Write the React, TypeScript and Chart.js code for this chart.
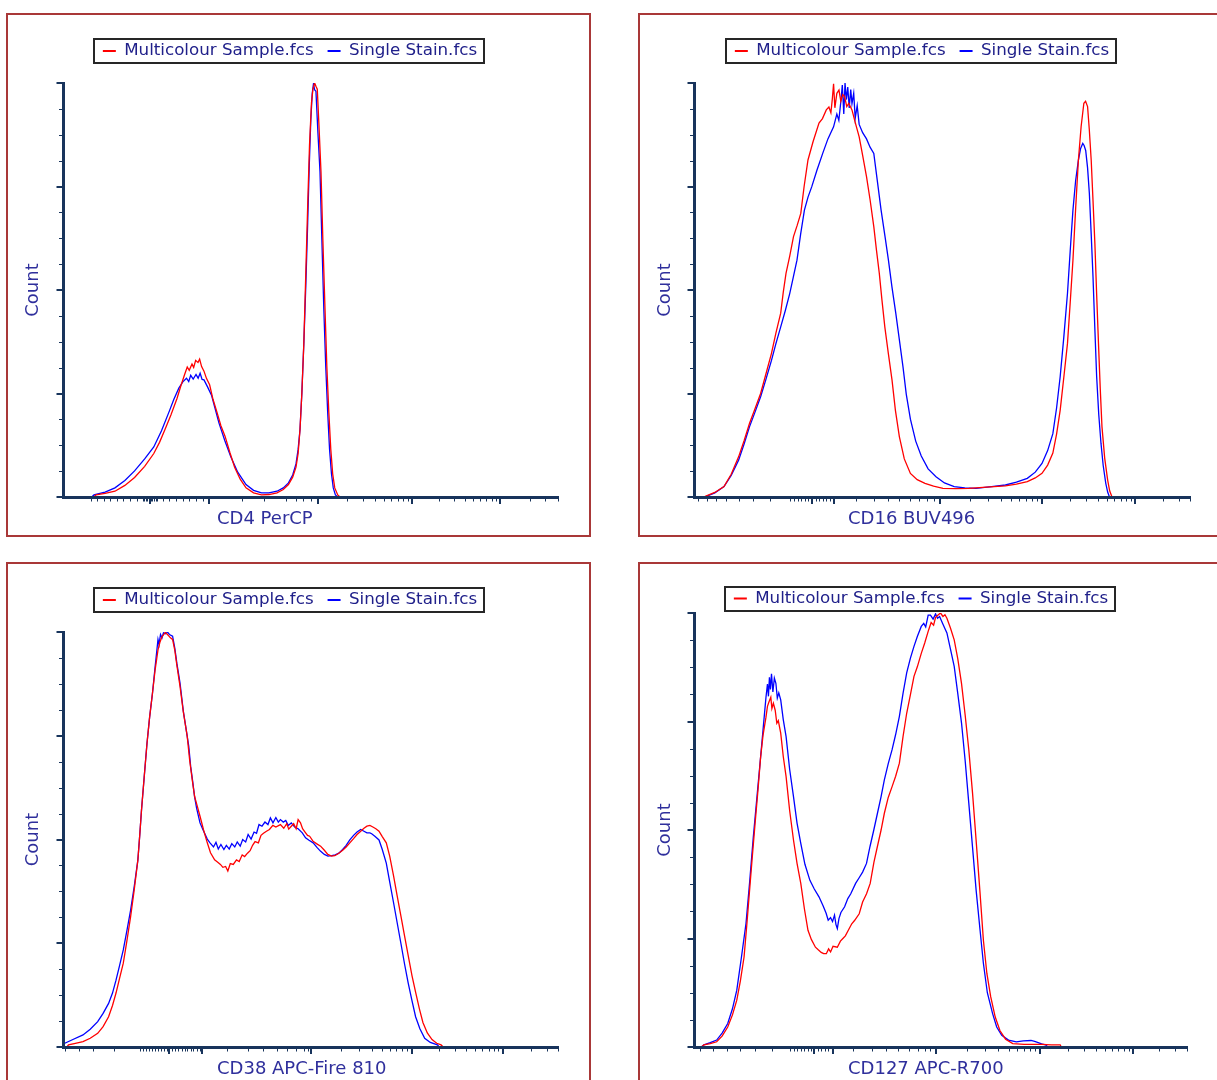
import React, { useEffect, useRef } from 'react';
import { Chart, registerables } from 'chart.js';

Chart.register(...registerables);

const FONT = '"DejaVu Sans", Verdana, sans-serif';
const AXIS_COLOR = '#18345c';
const LEGEND_TEXT = '#20208a';
const TITLE_TEXT = '#2f2f9c';
const FRAME_COLOR = '#a93838';

const seriesLabels = ['Multicolour Sample.fcs', 'Single Stain.fcs'];
const seriesColors = ['#ff0000', '#0000ff'];
const yAxisTitle = 'Count';
const xAxisTitles = ['CD4 PerCP', 'CD16 BUV496', 'CD38 APC-Fire 810', 'CD127 APC-R700'];

// y axis: percent of modal count
const yMajorTicks = [0, 25, 50, 75, 100];
const yMinorTicks = [6.25, 12.5, 18.75, 31.25, 37.5, 43.75, 56.25, 62.5, 68.75, 81.25, 87.5, 93.75];

// x axis: display channel 0..1000 (logicle-like tick layout)
const cd4MajorTicks = [175.8, 294, 516, 705, 882.8];
const cd4MinorTicks = [56.6, 68.7, 82.8, 95, 109, 121, 135, 149.5, 161.6, 164.6, 167.7, 170.7, 173.7, 177.8, 180.8, 183.8, 186.9, 190, 202, 214, 228, 242, 254.5, 268.7, 282.8, 361.6, 406, 450.5, 470.7, 484.8, 501, 573, 606, 630, 648.5, 663, 675.8, 687, 696, 758.6, 790, 812, 829, 843, 855, 865.7, 874.7, 943, 974, 1000];

const cd16MajorTicks = [238.9, 281.4, 495, 701.6, 889];
const cd16MinorTicks = [9, 26, 44.4, 64.3, 90, 119.5, 152.6, 194.5, 201.6, 208.7, 215.7, 222.8, 229.8, 246, 253, 260, 267, 274, 325.8, 362.5, 392, 414, 436, 454.6, 469.4, 484, 557.2, 593.6, 619.4, 639.4, 655.8, 669.6, 681.6, 692.1, 758, 791, 814.4, 832.6, 847.4, 860, 870.8, 880.4, 944.6, 977.6, 1000];

const cd38MajorTicks = [215, 280.8, 501, 705, 888];
const cd38MinorTicks = [5, 32.3, 61, 103, 155.6, 161.6, 167.7, 173.7, 179.8, 185.9, 191.9, 198, 204, 209.7, 221, 227, 233, 239.4, 245.5, 251.5, 257.6, 263.6, 269.7, 275.8, 332, 374.7, 405, 432, 453.5, 471.7, 485.9, 494, 562, 598, 624, 643.6, 659.7, 673.4, 685, 695.3, 760, 792.3, 815, 832.8, 847.4, 859.7, 870.3, 879.6, 945, 977.8, 1000];

const cd127MajorTicks = [244.2, 282, 490, 702, 890];
const cd127MinorTicks = [13, 37.7, 67, 93.3, 123.7, 157.4, 195.7, 202.8, 209.9, 217, 224, 231.2, 237.3, 251.5, 258.6, 265.7, 272.8, 322, 361, 388.7, 413, 436, 454, 468.6, 479, 553.8, 591.2, 617.6, 638.2, 655, 669.2, 681.5, 692.3, 758.6, 791.7, 815.2, 833.4, 848.3, 860.9, 871.8, 881.4, 943.6, 976, 1000];

// histogram series: [channel, % of max]
const cd4Multicolour = [[62, 0], [66.7, 0.5], [85, 0.9], [105, 1.4], [125, 2.8], [144.6, 4.7], [165, 7.4], [183.4, 10.5], [195, 13.2], [206, 16.3], [218, 19.8], [230.3, 23.8], [238, 26.8], [245.7, 29.6], [251, 31.4], [255, 30.6], [260.6, 32.1], [264, 31.3], [268, 33.0], [272.7, 32.5], [276, 33.3], [280, 31.5], [284.8, 30.4], [290, 28.6], [296.2, 27.1], [303, 23.6], [311, 20.5], [319, 17.2], [327.3, 14.7], [337, 10.8], [346.7, 7.2], [358, 4.3], [369.7, 2.2], [385, 1.0], [401, 0.5], [416, 0.6], [432.3, 1.0], [445, 1.8], [455.5, 3.0], [464, 4.8], [470.7, 7.2], [475, 10.5], [478.8, 16.3], [482.5, 25], [486.5, 37], [490.5, 54], [494.3, 70.3], [498, 85], [502, 95.2], [505, 98.6], [508.3, 100], [511, 99.2], [513.7, 98.5], [517, 90], [521.2, 78.5], [525, 62], [529.3, 45.4], [533, 31.5], [537, 20.5], [541, 11.5], [544.8, 5.6], [549, 2.2], [555, 0.5], [559.6, 0]];
const cd4SingleStain = [[58, 0], [62.6, 0.5], [85, 1.2], [105, 2.2], [125, 4.0], [144.6, 6.3], [165, 9.2], [183.4, 12.1], [199, 16.0], [214, 20.5], [224, 23.6], [234, 26.3], [242, 27.8], [249.5, 28.7], [254, 27.9], [258, 29.4], [263, 28.5], [268.7, 29.6], [273, 28.7], [277, 29.9], [281, 28.4], [284.8, 28.3], [292, 26.6], [300, 24.6], [307, 21.5], [315, 17.9], [327, 13.6], [339, 9.7], [353, 6.0], [369.7, 3.0], [385, 1.6], [401, 1.0], [416, 1.0], [432.3, 1.4], [445, 2.2], [455.5, 3.4], [464, 5.3], [470.7, 8.0], [475, 11.5], [478.8, 16.3], [482.5, 25], [486.5, 37], [490.5, 51], [494.3, 66.2], [497.5, 80], [500.6, 91], [503.5, 97.5], [506, 99.8], [508.5, 98.3], [511, 98], [515, 88], [519.2, 78.5], [523, 62], [526.9, 45.4], [530.8, 31.5], [534.7, 20.5], [538.5, 11.5], [542.4, 5.6], [546, 2.2], [550.3, 0.5], [555.5, 0]];

const cd16Multicolour = [[20, 0], [23.8, 0.2], [42, 1.1], [60.5, 2.5], [75, 5.5], [89.9, 9.7], [101, 13.6], [112, 17.8], [123, 21.3], [134.3, 25], [145, 29.7], [156.2, 34.7], [165, 39.5], [174.8, 44.4], [180, 49.5], [185.5, 54], [193, 58.2], [200.6, 62.9], [208, 65.6], [215.3, 68.5], [222, 75], [229.8, 81.4], [240, 85.8], [252, 90.3], [259, 91.4], [266.7, 93.5], [272, 94.2], [276, 92.8], [279, 96.3], [281.4, 99.8], [284, 94], [288, 97.5], [292.3, 98.3], [296, 95.6], [300, 97.2], [303.6, 96.7], [308, 94.3], [312, 95.1], [318.5, 93.5], [325, 90.5], [333, 87], [340, 82.5], [347.8, 77.4], [355, 71.8], [362.5, 65.3], [368, 59.5], [373.6, 54], [379, 47.5], [384.7, 41.1], [392, 34.5], [399.2, 28.3], [406, 21], [414, 14.6], [424, 9.2], [436.3, 5.7], [450, 4.2], [465.7, 3.3], [483, 2.6], [502, 2.1], [528, 2.0], [554, 2.1], [590, 2.4], [627.8, 2.7], [650, 3.1], [672, 3.7], [688, 4.6], [701.6, 5.7], [713, 7.7], [723.5, 10.6], [731, 15.2], [738.3, 21], [745.5, 28.8], [753, 37.1], [758.5, 47], [764, 57.2], [769.5, 69.8], [775, 81.4], [780.5, 89.5], [786, 95.1], [789.5, 95.6], [793.5, 94.3], [797, 88.7], [800.8, 81.4], [804.5, 71.5], [808.2, 61.3], [811.8, 48.9], [815.5, 37.1], [819, 26.3], [822.5, 17], [828, 9.4], [834, 4.1], [838, 1.5], [842.7, 0]];
const cd16SingleStain = [[20, 0], [23.8, 0.1], [42, 1.0], [60.5, 2.5], [75, 5.2], [89.9, 8.9], [101, 12.8], [112, 17], [123, 20.5], [134.3, 24.2], [145, 28.4], [156.2, 33], [165, 37], [174.8, 41.1], [184, 45], [193.1, 49.2], [200, 53], [207.6, 57.2], [215, 63.5], [222.6, 69.3], [230, 72.5], [237.3, 74.9], [248, 79], [259.5, 83], [270, 86.5], [281.4, 89.4], [288, 92.5], [292, 91], [296.4, 95.9], [299, 99.5], [302, 92.5], [304.5, 100], [307.2, 96], [310, 99], [313, 94], [316, 98.4], [318.5, 95], [322, 97.5], [325, 91.5], [329, 94.5], [333, 90], [340, 88], [347.8, 86.5], [355, 84.5], [362.5, 83], [370, 76], [377.2, 69.3], [385, 63], [392, 57.2], [399, 50.8], [406.8, 44.4], [414, 38], [421.3, 31.5], [428, 24.8], [436.3, 18.8], [447, 13.5], [458.2, 9.9], [472, 6.8], [487.9, 4.9], [505, 3.4], [524.6, 2.5], [546, 2.2], [568.5, 2.1], [600, 2.5], [627.8, 2.9], [650, 3.6], [672, 4.5], [688, 6.0], [701.6, 8.1], [713, 11.2], [723.5, 15.3], [731, 21.5], [738.3, 29.1], [745.5, 38.5], [753, 49.2], [758.5, 59.5], [764, 69.3], [769.5, 76.5], [775, 81.4], [779.5, 84.2], [783.8, 85.4], [786.5, 84.9], [789.7, 83.7], [793.5, 79.5], [797.1, 73.3], [800.8, 63.5], [804.4, 53.3], [808, 41.2], [811.8, 29.1], [816, 20], [820.5, 13], [825, 7.6], [830.2, 3.3], [834, 1.2], [837.6, 0]];

const cd38Multicolour = [[8, 0], [11.1, 0.5], [25, 0.9], [40.4, 1.3], [55, 2.1], [70.1, 3.3], [81, 4.9], [92.1, 7.3], [100, 10.0], [107.1, 13], [114, 16.4], [121.8, 20.2], [129, 25.5], [136.6, 31.4], [144, 38], [151.3, 45.1], [155, 51], [158.6, 57.1], [164, 65], [169.7, 73.2], [175, 79.5], [180.8, 85.3], [186, 90.8], [191.9, 95.7], [196, 97.6], [200, 98.9], [203, 99.3], [206.7, 99.9], [210, 99.5], [214, 99.0], [217, 98.6], [221.4, 98.2], [226, 95.5], [230, 92], [236.4, 86.9], [243, 80.8], [250.9, 74.9], [256, 69], [262, 63.6], [266, 60.3], [270, 58.6], [276.8, 55.6], [284, 52.3], [291.5, 49.2], [298, 46.8], [306.3, 45.1], [312, 44.6], [318, 44.0], [323, 43.3], [328.5, 43.5], [333, 42.4], [338, 44.2], [344, 44.0], [350.5, 45.1], [356, 44.7], [362, 46.3], [367, 45.9], [372.7, 46.7], [378, 47.3], [383, 48.6], [388, 49.5], [394.7, 49.2], [400, 51], [405, 51.5], [411, 52.0], [417, 52.4], [424, 53.4], [430, 53.0], [439.2, 53.6], [446, 52.7], [452, 53.8], [456, 52.5], [461.2, 53.2], [466, 53.8], [471, 52.6], [475, 54.8], [479.8, 54], [484, 52.6], [489, 51.8], [494, 51.0], [498.2, 50.8], [505, 49.6], [512, 49.0], [520.4, 48.4], [528, 47.4], [535, 46.4], [542.4, 46], [549, 46.1], [557.2, 46.7], [565, 47.4], [572, 48.2], [579.4, 49.2], [587, 50.2], [594, 51.2], [601.4, 52], [608, 52.7], [614, 53.2], [620, 53.4], [626, 53.0], [632, 52.6], [638.4, 52], [645, 50.7], [653.1, 49.2], [660, 46], [667.9, 41.2], [675, 36.5], [682.6, 31.6], [690, 26.8], [697.4, 22], [705, 17.2], [712.3, 13.2], [720, 9.2], [727.1, 5.9], [736, 3.4], [745.5, 1.8], [755, 0.9], [763.8, 0.5], [768, 0]];
const cd38SingleStain = [[0, 0.6], [3.6, 0.9], [20, 1.8], [40.4, 2.9], [55, 4.3], [70.1, 6.1], [81, 8.1], [92.1, 10.5], [100, 13.0], [107.1, 16.1], [114, 19.5], [121.8, 23.4], [129, 28], [136.6, 33], [144, 38.8], [151.3, 45.1], [155, 51], [158.6, 57.1], [164, 65], [169.7, 73.2], [175, 79.5], [180.8, 85.3], [186, 91.5], [191.9, 98.2], [194, 97], [197, 99.4], [200, 98.6], [203, 99.8], [207, 99.6], [211, 100], [215, 99.4], [221.4, 99], [226, 96], [230, 92.5], [236.4, 87.7], [243, 81], [250.9, 74.9], [254, 72.5], [258, 67.5], [262, 64], [265.7, 60.4], [270, 57.5], [276.8, 54], [283, 52.3], [291.5, 50.1], [297, 49.2], [304, 48.2], [309, 49.3], [313.7, 47.7], [319, 48.8], [325, 47.6], [330, 48.6], [335.8, 47.7], [341, 49.0], [347, 48.2], [352, 49.4], [358, 48.4], [363, 50.0], [369, 49.4], [374, 51.2], [380, 50.1], [386, 51.8], [391, 51.5], [396, 53.6], [402, 53.2], [408, 54.2], [414, 53.6], [419, 55.2], [424.2, 54], [430, 55.3], [435, 54.2], [439.2, 54.8], [445, 54.2], [450, 54.6], [455, 53.4], [461.2, 54], [468, 53.0], [475, 52.6], [483.4, 51.6], [490, 50.4], [497, 49.8], [505.4, 49.2], [513, 48.1], [520, 47.2], [528, 46.4], [535.2, 46], [543, 46.1], [550, 46.3], [557.2, 46.7], [565, 47.6], [572, 48.6], [579.4, 49.9], [587, 51.0], [594, 51.8], [601.4, 52.4], [608, 52.0], [614, 51.6], [620, 51.6], [623.6, 51.4], [630, 50.8], [638.4, 49.9], [645, 47.6], [653.1, 44.3], [660, 39.8], [667.9, 34.7], [675, 30], [682.6, 25], [690, 20], [697.4, 15.4], [705, 11.2], [712.3, 7.3], [721, 4.4], [730.7, 2.1], [742, 1.1], [756.3, 0.5], [760, 0]];

const cd127Multicolour = [[15, 0], [20.1, 0.5], [33, 0.8], [46, 1.2], [57, 2.5], [68.4, 4.6], [78, 7.4], [86.8, 10.8], [94, 15.2], [101.6, 20.8], [107, 28], [112.8, 36.2], [118, 43.5], [123.9, 51.5], [130, 59.5], [135.1, 66.8], [140, 71.8], [146, 76.0], [149, 78.5], [152, 79.5], [155.8, 80.6], [158, 78], [161, 79.2], [164.7, 77.6], [168, 74.6], [171, 75.2], [175.9, 72.3], [181, 67], [186.8, 62.3], [194, 54.5], [201.8, 47.7], [209, 42.3], [216.6, 37.7], [224, 31.8], [231.2, 26.9], [238, 24.8], [246.3, 23.0], [252, 22.4], [258, 21.8], [263, 21.5], [268.4, 21.5], [273, 22.6], [277, 21.9], [282, 23.2], [290.7, 23.0], [297, 24.4], [302, 25.0], [307, 25.6], [313, 26.9], [320, 28.4], [326, 29.2], [335.1, 30.7], [342, 33.4], [350, 35.3], [357.4, 37.7], [365, 42.6], [372, 46.2], [379.5, 50], [386, 53.8], [394, 57.5], [401.8, 60], [409, 62.4], [416.6, 65.4], [424, 71.5], [431.4, 76.9], [439, 81.2], [446.2, 85.4], [453, 87.6], [461, 90.7], [468, 93.1], [475.9, 96.1], [481, 97.8], [486, 97.2], [490, 99], [494.5, 99.5], [500, 100], [505, 99.2], [509, 99.6], [513, 98.8], [520, 96.6], [527.8, 93.8], [535, 89.5], [542.6, 83.8], [550, 76.5], [557.4, 68.5], [565, 58.5], [572.2, 47.7], [580, 35.8], [587, 24.6], [594, 17], [601.8, 11.6], [611, 6.9], [620.5, 3.8], [632, 1.8], [646.5, 0.8], [670, 0.6], [705.7, 0.6], [725, 0.5], [742.8, 0.5], [745, 0]];
const cd127SingleStain = [[15, 0], [20.1, 0.5], [33, 1.0], [46, 1.6], [57, 3.2], [68.4, 5.4], [78, 8.8], [86.8, 13.1], [96, 20.5], [105.5, 28.5], [113, 38.2], [120.3, 48.4], [128, 58], [135.1, 66.8], [140, 73], [146, 80.6], [149, 83.6], [151, 80.8], [153, 85.2], [155, 82.4], [157.2, 86], [160, 81.8], [163, 85], [166.1, 83.8], [169, 80.4], [172, 81.6], [175.9, 80], [181, 75.5], [186.8, 71.5], [194, 64], [201.8, 57.7], [209, 51.6], [216.6, 46.9], [225, 42.1], [235.1, 38.4], [244, 36.4], [253.5, 34.6], [262, 32.5], [268, 30.8], [272.2, 29.2], [277, 29.8], [281, 28.9], [285, 30.4], [288, 28.2], [290.7, 27.3], [294, 29.6], [298, 31.0], [305.5, 32.3], [312, 34.2], [318, 35.3], [327.8, 37.7], [335, 39.0], [342, 40.3], [349.9, 42.3], [357, 46.2], [364.7, 50], [372, 53.8], [379.5, 57.7], [386, 61.5], [394, 65.3], [401.8, 68.5], [409, 72.0], [416.6, 76.2], [424, 81.5], [431.4, 86.2], [439, 89.6], [446.2, 92.3], [453, 94.6], [461, 96.9], [466, 97.6], [470, 96.8], [475, 99.5], [479.7, 99.5], [485, 98.6], [490, 99.8], [494, 98.8], [498.2, 99.2], [505, 97.4], [513, 95.4], [520, 91.8], [527.8, 87.7], [535, 81.5], [542.6, 74.7], [550, 66], [557.4, 56.2], [565, 46], [572.2, 36.2], [580, 27.2], [587, 19.3], [595, 12.5], [605.7, 7.7], [614, 4.6], [624.2, 2.7], [638, 1.6], [653.8, 1.2], [668, 1.4], [683.6, 1.5], [691, 1.3], [698.2, 1.0], [705, 0.7], [713, 0.5], [718, 0]];

type Panel = {
  key: string;
  title: string;
  multi: number[][];
  single: number[][];
  xMajor: number[];
  xMinor: number[];
  frame: { left: number; top: number; width: number; height: number };
  canvas: { left: number; top: number; width: number; height: number };
  pad: { left: number; right: number; top: number; bottom: number };
  legendExtra: number;
  yTitlePad: { top: number; bottom: number };
};

const panels: Panel[] = [
  {
    key: 'cd4', title: xAxisTitles[0], multi: cd4Multicolour, single: cd4SingleStain,
    xMajor: cd4MajorTicks, xMinor: cd4MinorTicks,
    frame: { left: 6, top: 13, width: 585, height: 524 },
    canvas: { left: 9, top: 16, width: 562, height: 519 },
    pad: { left: 13, right: 13, top: 12.65, bottom: 38 },
    legendExtra: 13.65, yTitlePad: { top: 0.5, bottom: 18.9 },
  },
  {
    key: 'cd16', title: xAxisTitles[1], multi: cd16Multicolour, single: cd16SingleStain,
    xMajor: cd16MajorTicks, xMinor: cd16MinorTicks,
    frame: { left: 638, top: 13, width: 700, height: 524 },
    canvas: { left: 641, top: 16, width: 562, height: 519 },
    pad: { left: 13, right: 13, top: 12.65, bottom: 38 },
    legendExtra: 13.65, yTitlePad: { top: 0.2, bottom: 18.2 },
  },
  {
    key: 'cd38', title: xAxisTitles[2], multi: cd38Multicolour, single: cd38SingleStain,
    xMajor: cd38MajorTicks, xMinor: cd38MinorTicks,
    frame: { left: 6, top: 562, width: 585, height: 600 },
    canvas: { left: 9, top: 565, width: 562, height: 515 },
    pad: { left: 13, right: 13, top: 12.65, bottom: 33 },
    legendExtra: 13.65, yTitlePad: { top: 0.5, bottom: 18.9 },
  },
  {
    key: 'cd127', title: xAxisTitles[3], multi: cd127Multicolour, single: cd127SingleStain,
    xMajor: cd127MajorTicks, xMinor: cd127MinorTicks,
    frame: { left: 638, top: 562, width: 700, height: 600 },
    canvas: { left: 641, top: 565, width: 562, height: 515 },
    pad: { left: 14, right: 16, top: 11.15, bottom: 33 },
    legendExtra: -3.85, yTitlePad: { top: 0, bottom: 17.4 },
  },
];

const legendSpacer = (extra: number) => ({
  id: 'legendSpacer',
  afterInit(chart: any) {
    const legend = chart.legend;
    if (!legend) return;
    const baseFit = legend.fit.bind(legend);
    legend.fit = () => {
      baseFit();
      legend.height = Math.max(0, legend.height + extra);
    };
  },
});

const flowDecor = (p: Panel) => ({
  id: 'flowDecor',
  afterDraw(chart: any) {
    const { ctx, chartArea: a, scales } = chart;
    const x = scales.x;
    const y = scales.y;
    ctx.save();
    ctx.strokeStyle = AXIS_COLOR;
    const vtick = (v: number, len: number, w: number) => {
      const px = Math.round(x.getPixelForValue(v)) + (w % 2 ? 0.5 : 0);
      ctx.lineWidth = w;
      ctx.beginPath();
      ctx.moveTo(px, a.bottom);
      ctx.lineTo(px, a.bottom + len);
      ctx.stroke();
    };
    const htick = (v: number, len: number, w: number) => {
      const py = Math.round(y.getPixelForValue(v)) + (w % 2 ? 0.5 : 0);
      ctx.lineWidth = w;
      ctx.beginPath();
      ctx.moveTo(a.left, py);
      ctx.lineTo(a.left - len, py);
      ctx.stroke();
    };
    p.xMinor.forEach((v) => vtick(v, 4.5, 1));
    p.xMajor.forEach((v) => vtick(v, 7, 2));
    yMinorTicks.forEach((v) => htick(v, 4, 1));
    yMajorTicks.forEach((v) => htick(v, 6.5, 2));

    const hb = chart.legend && chart.legend.legendHitBoxes;
    if (hb && hb.length) {
      const first = hb[0];
      const last = hb[hb.length - 1];
      const cy = first.top + first.height / 2;
      const l = Math.round(first.left - 9);
      const r = Math.round(last.left + last.width + 7);
      const t = Math.round(cy - 12);
      const b = Math.round(cy + 12);
      ctx.lineWidth = 2;
      ctx.strokeStyle = '#262626';
      ctx.strokeRect(l, t, r - l, b - t);
    }

    ctx.fillStyle = TITLE_TEXT;
    ctx.font = `18px ${FONT}`;
    ctx.textAlign = 'left';
    ctx.textBaseline = 'middle';
    ctx.fillText(p.title, a.left + 154, a.bottom + 22);
    ctx.restore();
  },
});

function FlowHistogram({ panel }: { panel: Panel }) {
  const ref = useRef<HTMLCanvasElement | null>(null);
  useEffect(() => {
    if (!ref.current) return;
    const toPoints = (arr: number[][]) => arr.map(([x, y]) => ({ x, y }));
    const chart = new Chart(ref.current, {
      type: 'line',
      data: {
        datasets: [
          {
            label: seriesLabels[0],
            data: toPoints(panel.multi),
            borderColor: seriesColors[0],
            backgroundColor: seriesColors[0],
            borderWidth: 1.3,
            pointRadius: 0,
            tension: 0,
            fill: false,
          },
          {
            label: seriesLabels[1],
            data: toPoints(panel.single),
            borderColor: seriesColors[1],
            backgroundColor: seriesColors[1],
            borderWidth: 1.3,
            pointRadius: 0,
            tension: 0,
            fill: false,
          },
        ],
      },
      options: {
        animation: false,
        responsive: false,
        maintainAspectRatio: false,
        events: [],
        layout: { padding: panel.pad },
        plugins: {
          legend: {
            display: true,
            position: 'top',
            align: 'center',
            labels: {
              usePointStyle: true,
              pointStyle: 'line',
              pointStyleWidth: 13,
              padding: 14,
              color: LEGEND_TEXT,
              font: { size: 16.7, family: FONT },
              generateLabels: (c: any) =>
                Chart.defaults.plugins.legend.labels.generateLabels(c).map((l: any) => ({ ...l, lineWidth: 2 })),
            },
          },
          tooltip: { enabled: false },
          title: { display: false },
        },
        scales: {
          x: {
            type: 'linear',
            min: 0,
            max: 1000,
            ticks: { display: false },
            grid: { display: false, drawTicks: false },
            border: { display: true, color: AXIS_COLOR, width: 3, z: 1 },
          },
          y: {
            type: 'linear',
            min: 0,
            max: 100,
            ticks: { display: false },
            grid: { display: false, drawTicks: false },
            border: { display: true, color: AXIS_COLOR, width: 3, z: 1 },
            title: {
              display: true,
              text: yAxisTitle,
              color: TITLE_TEXT,
              font: { size: 18, family: FONT, lineHeight: 1.2 },
              padding: panel.yTitlePad,
            },
          },
        },
      } as any,
      plugins: [legendSpacer(panel.legendExtra), flowDecor(panel)],
    });
    return () => chart.destroy();
  }, [panel]);
  const c = panel.canvas;
  return (
    <canvas
      ref={ref}
      width={c.width}
      height={c.height}
      style={{ position: 'absolute', left: c.left, top: c.top, width: c.width, height: c.height }}
    />
  );
}

export default function App() {
  return (
    <div
      style={{
        position: 'absolute',
        left: 0,
        top: 0,
        width: 1217,
        height: 1080,
        overflow: 'hidden',
        background: '#ffffff',
      }}
    >
      {panels.map((p) => (
        <div
          key={p.key + '-frame'}
          style={{
            position: 'absolute',
            boxSizing: 'border-box',
            border: `2px solid ${FRAME_COLOR}`,
            left: p.frame.left,
            top: p.frame.top,
            width: p.frame.width,
            height: p.frame.height,
          }}
        />
      ))}
      {panels.map((p) => (
        <FlowHistogram key={p.key} panel={p} />
      ))}
    </div>
  );
}
